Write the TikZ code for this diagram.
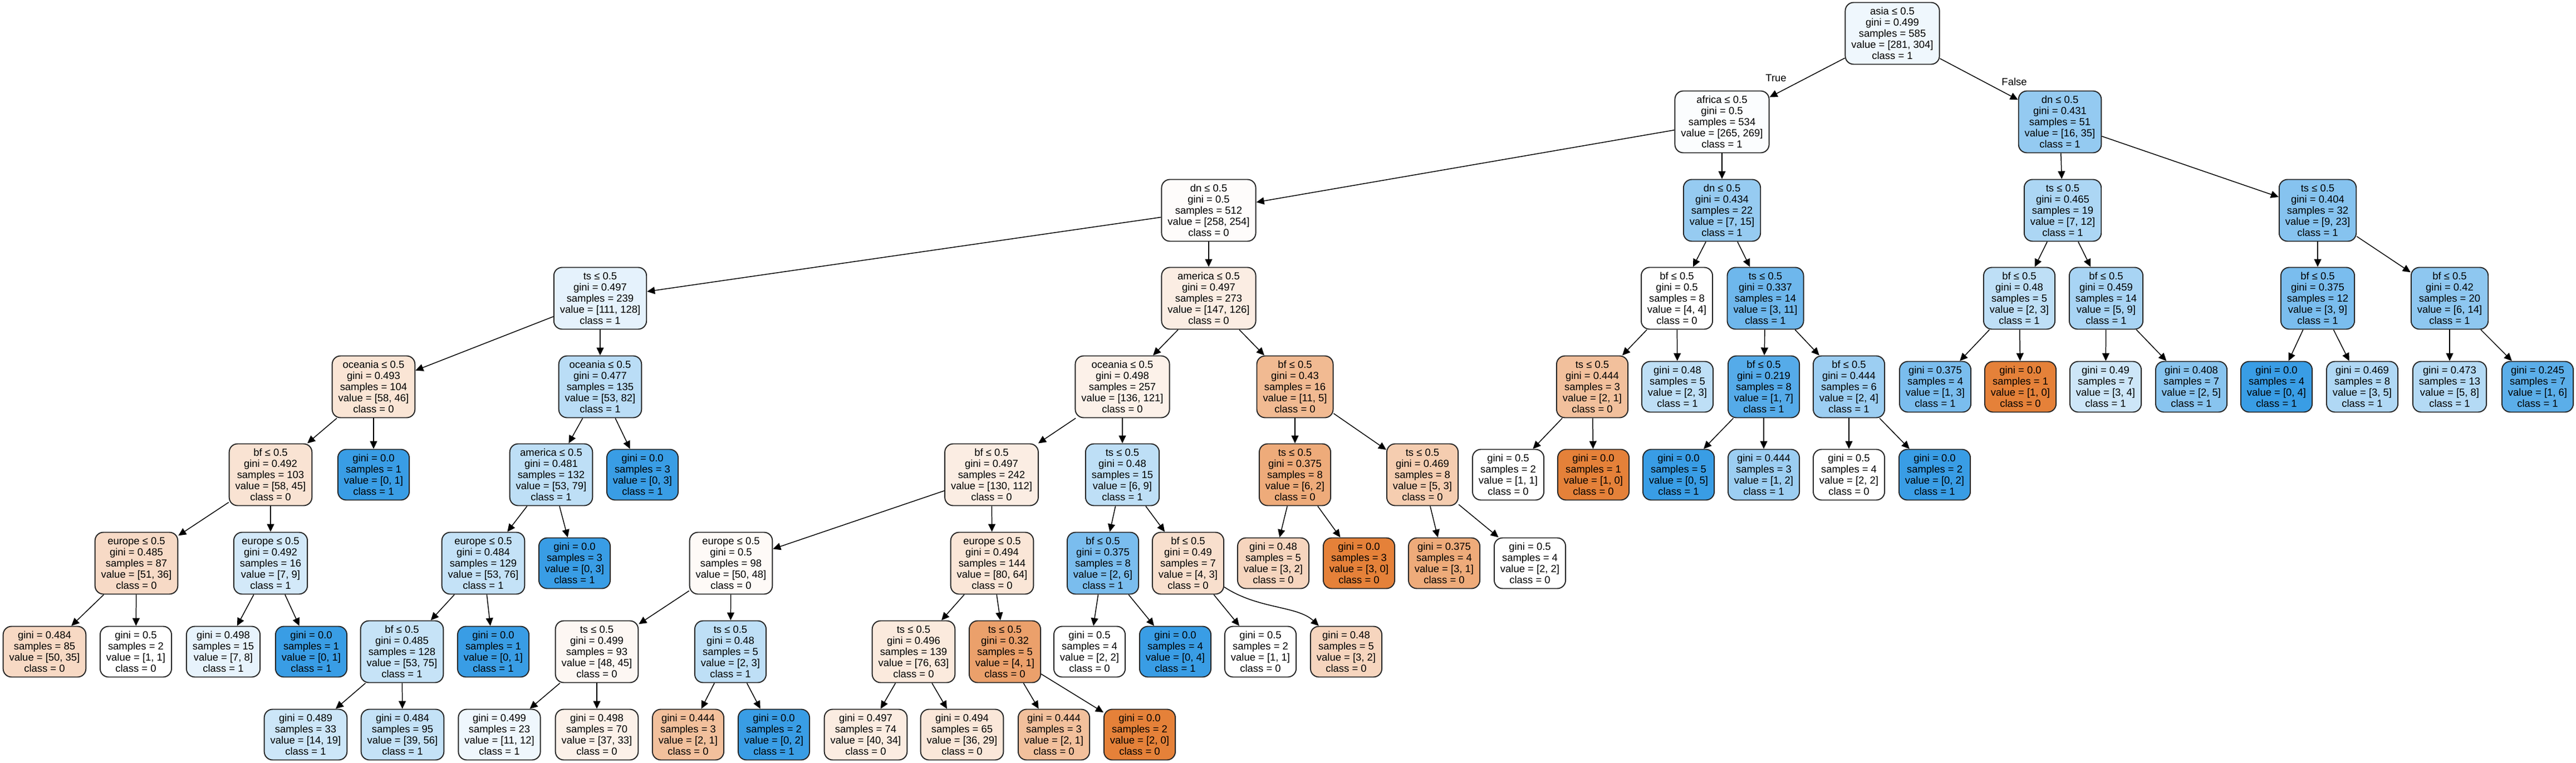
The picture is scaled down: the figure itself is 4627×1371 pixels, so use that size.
\documentclass[tikz,border=0pt]{standalone}
\usepackage{fontspec}
\setmainfont{Liberation Sans}
\usepackage{tikz}
\usetikzlibrary{arrows.meta}
\definecolor{orng}{RGB}{229,129,57}
\definecolor{blu}{RGB}{57,157,229}
\tikzset{
	->,
	>={Triangle[length=0.28cm, width=0.26cm]},
	every node/.style={font=\fontsize{10.5}{11.4}\selectfont},
	split/.style={draw=black!85, line width=1.1pt, rounded corners=0.3cm, align=center, minimum height=2.22cm, inner xsep=0.22cm, inner ysep=0pt},
	leaf/.style={split, minimum height=1.82cm},
}

\begin{document}
\begin{tikzpicture}[x=0.02cm, y=-0.02cm, line width=0.85pt]
			\useasboundingbox (0,0) rectangle (4627,1371);
			\node[split, fill=blu!8] (n0) at (3399,60) {asia ≤ 0.5\\gini = 0.499\\samples = 585\\value = [281, 304]\\class = 1};
			\node[split, fill=blu!2] (n1) at (3093,219) {africa ≤ 0.5\\gini = 0.5\\samples = 534\\value = [265, 269]\\class = 1};
			\node[split, fill=blu!54] (n2) at (3700,219) {dn ≤ 0.5\\gini = 0.431\\samples = 51\\value = [16, 35]\\class = 1};
			\node[split, fill=orng!2] (n3) at (2171,378) {dn ≤ 0.5\\gini = 0.5\\samples = 512\\value = [258, 254]\\class = 0};
			\node[split, fill=blu!53] (n4) at (3093,378) {dn ≤ 0.5\\gini = 0.434\\samples = 22\\value = [7, 15]\\class = 1};
			\node[split, fill=blu!42] (n5) at (3705,378) {ts ≤ 0.5\\gini = 0.465\\samples = 19\\value = [7, 12]\\class = 1};
			\node[split, fill=blu!61] (n6) at (4163,378) {ts ≤ 0.5\\gini = 0.404\\samples = 32\\value = [9, 23]\\class = 1};
			\node[split, fill=blu!13] (n7) at (1078,536) {ts ≤ 0.5\\gini = 0.497\\samples = 239\\value = [111, 128]\\class = 1};
			\node[split, fill=orng!14] (n8) at (2171,536) {america ≤ 0.5\\gini = 0.497\\samples = 273\\value = [147, 126]\\class = 0};
			\node[split, fill=white] (n9) at (3012,536) {bf ≤ 0.5\\gini = 0.5\\samples = 8\\value = [4, 4]\\class = 0};
			\node[split, fill=blu!73] (n10) at (3171,536) {ts ≤ 0.5\\gini = 0.337\\samples = 14\\value = [3, 11]\\class = 1};
			\node[split, fill=blu!33] (n11) at (3627,536) {bf ≤ 0.5\\gini = 0.48\\samples = 5\\value = [2, 3]\\class = 1};
			\node[split, fill=blu!44] (n12) at (3783,536) {bf ≤ 0.5\\gini = 0.459\\samples = 14\\value = [5, 9]\\class = 1};
			\node[split, fill=blu!67] (n13) at (4163,536) {bf ≤ 0.5\\gini = 0.375\\samples = 12\\value = [3, 9]\\class = 1};
			\node[split, fill=blu!57] (n14) at (4400,536) {bf ≤ 0.5\\gini = 0.42\\samples = 20\\value = [6, 14]\\class = 1};
			\node[split, fill=orng!21] (n15) at (671,695) {oceania ≤ 0.5\\gini = 0.493\\samples = 104\\value = [58, 46]\\class = 0};
			\node[split, fill=blu!35] (n16) at (1078,695) {oceania ≤ 0.5\\gini = 0.477\\samples = 135\\value = [53, 82]\\class = 1};
			\node[split, fill=orng!11] (n17) at (2016,695) {oceania ≤ 0.5\\gini = 0.498\\samples = 257\\value = [136, 121]\\class = 0};
			\node[split, fill=orng!55] (n18) at (2326,695) {bf ≤ 0.5\\gini = 0.43\\samples = 16\\value = [11, 5]\\class = 0};
			\node[split, fill=orng!50] (n19) at (2860,695) {ts ≤ 0.5\\gini = 0.444\\samples = 3\\value = [2, 1]\\class = 0};
			\node[leaf, fill=blu!33] (n20) at (3013,695) {gini = 0.48\\samples = 5\\value = [2, 3]\\class = 1};
			\node[split, fill=blu!86] (n21) at (3168,695) {bf ≤ 0.5\\gini = 0.219\\samples = 8\\value = [1, 7]\\class = 1};
			\node[split, fill=blu!50] (n22) at (3321,695) {bf ≤ 0.5\\gini = 0.444\\samples = 6\\value = [2, 4]\\class = 1};
			\node[leaf, fill=blu!67] (n23) at (3476,695) {gini = 0.375\\samples = 4\\value = [1, 3]\\class = 1};
			\node[leaf, fill=orng] (n24) at (3629,695) {gini = 0.0\\samples = 1\\value = [1, 0]\\class = 0};
			\node[leaf, fill=blu!25] (n25) at (3782,695) {gini = 0.49\\samples = 7\\value = [3, 4]\\class = 1};
			\node[leaf, fill=blu!60] (n26) at (3936,695) {gini = 0.408\\samples = 7\\value = [2, 5]\\class = 1};
			\node[leaf, fill=blu] (n27) at (4089,695) {gini = 0.0\\samples = 4\\value = [0, 4]\\class = 1};
			\node[leaf, fill=blu!40] (n28) at (4243,695) {gini = 0.469\\samples = 8\\value = [3, 5]\\class = 1};
			\node[leaf, fill=blu!38] (n29) at (4400,695) {gini = 0.473\\samples = 13\\value = [5, 8]\\class = 1};
			\node[leaf, fill=blu!83] (n30) at (4558,695) {gini = 0.245\\samples = 7\\value = [1, 6]\\class = 1};
			\node[split, fill=orng!22] (n31) at (486,853) {bf ≤ 0.5\\gini = 0.492\\samples = 103\\value = [58, 45]\\class = 0};
			\node[leaf, fill=blu] (n32) at (671,853) {gini = 0.0\\samples = 1\\value = [0, 1]\\class = 1};
			\node[split, fill=blu!33] (n33) at (990,853) {america ≤ 0.5\\gini = 0.481\\samples = 132\\value = [53, 79]\\class = 1};
			\node[leaf, fill=blu] (n34) at (1154,853) {gini = 0.0\\samples = 3\\value = [0, 3]\\class = 1};
			\node[split, fill=orng!14] (n35) at (1781,853) {bf ≤ 0.5\\gini = 0.497\\samples = 242\\value = [130, 112]\\class = 0};
			\node[split, fill=blu!33] (n36) at (2016,853) {ts ≤ 0.5\\gini = 0.48\\samples = 15\\value = [6, 9]\\class = 1};
			\node[split, fill=orng!67] (n37) at (2326,853) {ts ≤ 0.5\\gini = 0.375\\samples = 8\\value = [6, 2]\\class = 0};
			\node[split, fill=orng!40] (n38) at (2555,853) {ts ≤ 0.5\\gini = 0.469\\samples = 8\\value = [5, 3]\\class = 0};
			\node[leaf, fill=white] (n39) at (2709,853) {gini = 0.5\\samples = 2\\value = [1, 1]\\class = 0};
			\node[leaf, fill=orng] (n40) at (2862,853) {gini = 0.0\\samples = 1\\value = [1, 0]\\class = 0};
			\node[leaf, fill=blu] (n41) at (3015,853) {gini = 0.0\\samples = 5\\value = [0, 5]\\class = 1};
			\node[leaf, fill=blu!50] (n42) at (3168,853) {gini = 0.444\\samples = 3\\value = [1, 2]\\class = 1};
			\node[leaf, fill=white] (n43) at (3321,853) {gini = 0.5\\samples = 4\\value = [2, 2]\\class = 0};
			\node[leaf, fill=blu] (n44) at (3475,853) {gini = 0.0\\samples = 2\\value = [0, 2]\\class = 1};
			\node[split, fill=orng!29] (n45) at (245,1012) {europe ≤ 0.5\\gini = 0.485\\samples = 87\\value = [51, 36]\\class = 0};
			\node[split, fill=blu!22] (n46) at (486,1012) {europe ≤ 0.5\\gini = 0.492\\samples = 16\\value = [7, 9]\\class = 1};
			\node[split, fill=blu!30] (n47) at (868,1012) {europe ≤ 0.5\\gini = 0.484\\samples = 129\\value = [53, 76]\\class = 1};
			\node[leaf, fill=blu] (n48) at (1032,1012) {gini = 0.0\\samples = 3\\value = [0, 3]\\class = 1};
			\node[split, fill=orng!4] (n49) at (1313,1012) {europe ≤ 0.5\\gini = 0.5\\samples = 98\\value = [50, 48]\\class = 0};
			\node[split, fill=orng!20] (n50) at (1782,1012) {europe ≤ 0.5\\gini = 0.494\\samples = 144\\value = [80, 64]\\class = 0};
			\node[split, fill=blu!67] (n51) at (1981,1012) {bf ≤ 0.5\\gini = 0.375\\samples = 8\\value = [2, 6]\\class = 1};
			\node[split, fill=orng!25] (n52) at (2134,1012) {bf ≤ 0.5\\gini = 0.49\\samples = 7\\value = [4, 3]\\class = 0};
			\node[leaf, fill=orng!33] (n53) at (2287,1012) {gini = 0.48\\samples = 5\\value = [3, 2]\\class = 0};
			\node[leaf, fill=orng] (n54) at (2441,1012) {gini = 0.0\\samples = 3\\value = [3, 0]\\class = 0};
			\node[leaf, fill=orng!67] (n55) at (2594,1012) {gini = 0.375\\samples = 4\\value = [3, 1]\\class = 0};
			\node[leaf, fill=white] (n56) at (2748,1012) {gini = 0.5\\samples = 4\\value = [2, 2]\\class = 0};
			\node[leaf, fill=orng!30] (n57) at (80,1171) {gini = 0.484\\samples = 85\\value = [50, 35]\\class = 0};
			\node[leaf, fill=white] (n58) at (244,1171) {gini = 0.5\\samples = 2\\value = [1, 1]\\class = 0};
			\node[leaf, fill=blu!12] (n59) at (401,1171) {gini = 0.498\\samples = 15\\value = [7, 8]\\class = 1};
			\node[leaf, fill=blu] (n60) at (559,1171) {gini = 0.0\\samples = 1\\value = [0, 1]\\class = 1};
			\node[split, fill=blu!29] (n61) at (722,1171) {bf ≤ 0.5\\gini = 0.485\\samples = 128\\value = [53, 75]\\class = 1};
			\node[leaf, fill=blu] (n62) at (886,1171) {gini = 0.0\\samples = 1\\value = [0, 1]\\class = 1};
			\node[split, fill=orng!6] (n63) at (1072,1171) {ts ≤ 0.5\\gini = 0.499\\samples = 93\\value = [48, 45]\\class = 0};
			\node[split, fill=blu!33] (n64) at (1312,1171) {ts ≤ 0.5\\gini = 0.48\\samples = 5\\value = [2, 3]\\class = 1};
			\node[split, fill=orng!17] (n65) at (1641,1171) {ts ≤ 0.5\\gini = 0.496\\samples = 139\\value = [76, 63]\\class = 0};
			\node[split, fill=orng!75] (n66) at (1805,1171) {ts ≤ 0.5\\gini = 0.32\\samples = 5\\value = [4, 1]\\class = 0};
			\node[leaf, fill=white] (n67) at (1957,1171) {gini = 0.5\\samples = 4\\value = [2, 2]\\class = 0};
			\node[leaf, fill=blu] (n68) at (2111,1171) {gini = 0.0\\samples = 4\\value = [0, 4]\\class = 1};
			\node[leaf, fill=white] (n69) at (2264,1171) {gini = 0.5\\samples = 2\\value = [1, 1]\\class = 0};
			\node[leaf, fill=orng!33] (n70) at (2418,1171) {gini = 0.48\\samples = 5\\value = [3, 2]\\class = 0};
			\node[leaf, fill=blu!26] (n71) at (549,1320) {gini = 0.489\\samples = 33\\value = [14, 19]\\class = 1};
			\node[leaf, fill=blu!30] (n72) at (723,1320) {gini = 0.484\\samples = 95\\value = [39, 56]\\class = 1};
			\node[leaf, fill=blu!8] (n73) at (897,1320) {gini = 0.499\\samples = 23\\value = [11, 12]\\class = 1};
			\node[leaf, fill=orng!11] (n74) at (1072,1320) {gini = 0.498\\samples = 70\\value = [37, 33]\\class = 0};
			\node[leaf, fill=orng!50] (n75) at (1236,1320) {gini = 0.444\\samples = 3\\value = [2, 1]\\class = 0};
			\node[leaf, fill=blu] (n76) at (1390,1320) {gini = 0.0\\samples = 2\\value = [0, 2]\\class = 1};
			\node[leaf, fill=orng!15] (n77) at (1555,1320) {gini = 0.497\\samples = 74\\value = [40, 34]\\class = 0};
			\node[leaf, fill=orng!19] (n78) at (1728,1320) {gini = 0.494\\samples = 65\\value = [36, 29]\\class = 0};
			\node[leaf, fill=orng!50] (n79) at (1893,1320) {gini = 0.444\\samples = 3\\value = [2, 1]\\class = 0};
			\node[leaf, fill=orng] (n80) at (2047,1320) {gini = 0.0\\samples = 2\\value = [2, 0]\\class = 0};
			\node (tru) at (3190,140) {True};
			\node (fls) at (3618,147) {False};
			
			
			\draw (n0) edge (n1) edge (n2);
			\draw (n1) edge (n3) edge (n4);
			\draw (n2) edge (n5) edge (n6);
			\draw (n3) edge (n7) edge (n8);
			\draw (n4) edge (n9) edge (n10);
			\draw (n5) edge (n11) edge (n12);
			\draw (n6) edge (n13) edge (n14);
			\draw (n7) edge (n15) edge (n16);
			\draw (n8) edge (n17) edge (n18);
			\draw (n9) edge (n19) edge (n20);
			\draw (n10) edge (n21) edge (n22);
			\draw (n11) edge (n23) edge (n24);
			\draw (n12) edge (n25) edge (n26);
			\draw (n13) edge (n27) edge (n28);
			\draw (n14) edge (n29) edge (n30);
			\draw (n15) edge (n31) edge (n32);
			\draw (n16) edge (n33) edge (n34);
			\draw (n17) edge (n35) edge (n36);
			\draw (n18) edge (n37) edge (n38);
			\draw (n19) edge (n39) edge (n40);
			\draw (n21) edge (n41) edge (n42);
			\draw (n22) edge (n43) edge (n44);
			\draw (n31) edge (n45) edge (n46);
			\draw (n33) edge (n47) edge (n48);
			\draw (n35) edge (n49) edge (n50);
			\draw (n36) edge (n51) edge (n52);
			\draw (n37) edge (n53) edge (n54);
			\draw (n38) edge (n55) edge (n56);
			\draw (n45) edge (n57) edge (n58);
			\draw (n46) edge (n59) edge (n60);
			\draw (n47) edge (n61) edge (n62);
			\draw (n49) edge (n63) edge (n64);
			\draw (n50) edge (n65) edge (n66);
			\draw (n51) edge (n67) edge (n68);
			\draw (n52) edge (n69);
			\draw (n52) .. controls (2260,1095) and (2330,1088) .. (n70);
			\draw (n61) edge (n71) edge (n72);
			\draw (n63) edge (n73) edge (n74);
			\draw (n64) edge (n75) edge (n76);
			\draw (n65) edge (n77) edge (n78);
			\draw (n66) edge (n79) edge (n80);
		\end{tikzpicture}
\end{document}
